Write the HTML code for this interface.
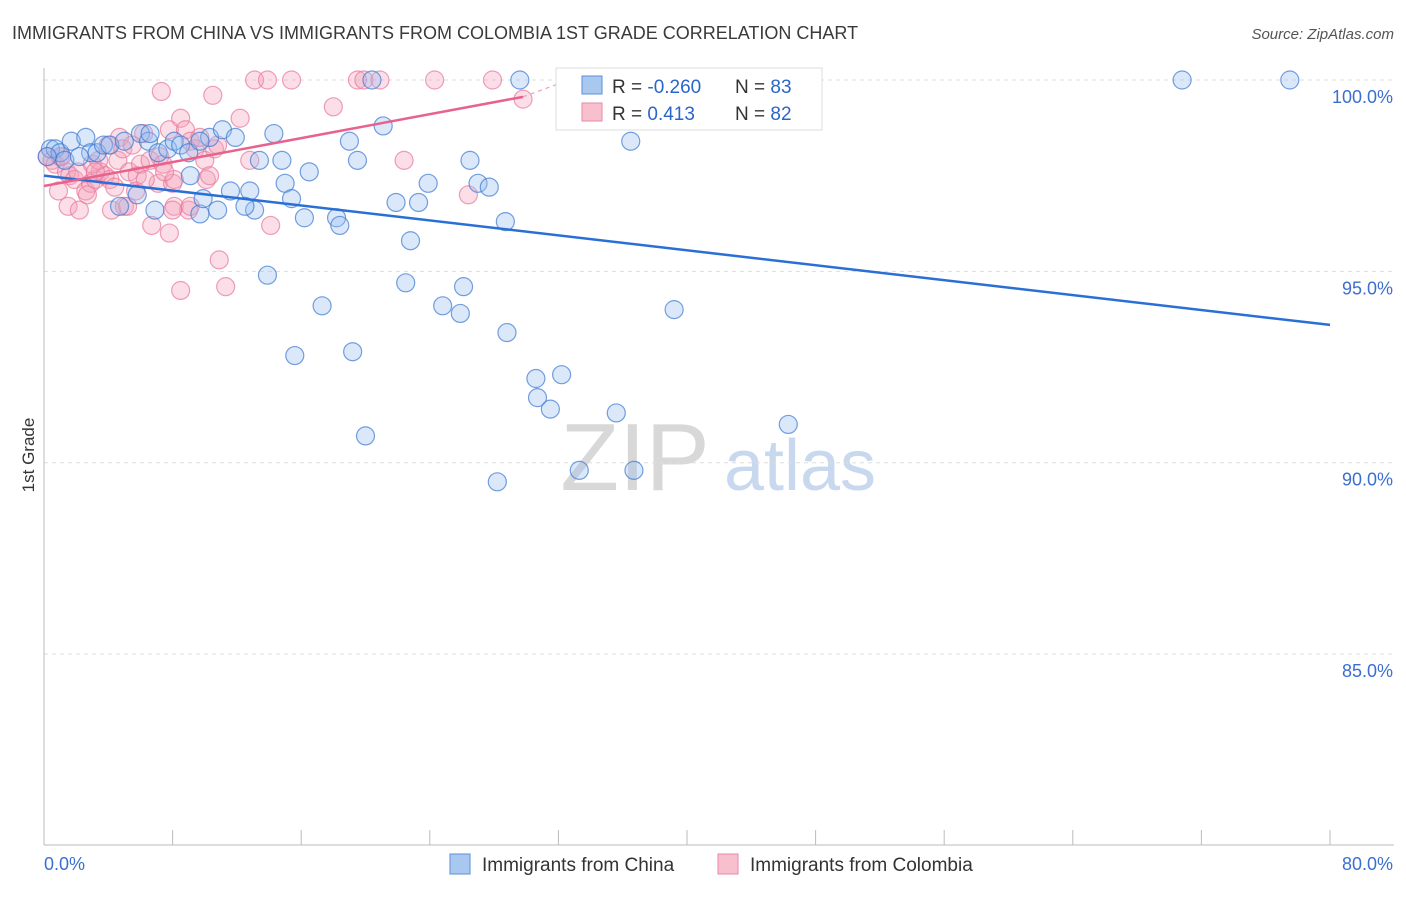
<!DOCTYPE html>
<html><head><meta charset="utf-8"><style>
body{margin:0;background:#fff;font-family:"Liberation Sans",sans-serif;}
svg text{font-family:"Liberation Sans",sans-serif;}
</style></head><body>
<svg id="chart" width="1406" height="892" xmlns="http://www.w3.org/2000/svg">
<text x="12" y="39" font-size="18" fill="#3a3a3a">IMMIGRANTS FROM CHINA VS IMMIGRANTS FROM COLOMBIA 1ST GRADE CORRELATION CHART</text>
<text x="1394" y="39" font-size="15" fill="#555" text-anchor="end" font-style="italic">Source: ZipAtlas.com</text>
<text x="34" y="455" font-size="17" fill="#333" text-anchor="middle" transform="rotate(-90 34 455)">1st Grade</text>
<g id="watermark">
<text x="635" y="490" font-size="96" fill="#d8d8d8" font-family="Liberation Serif" text-anchor="middle">ZIP</text>
<text x="800" y="490" font-size="72" fill="#c8d8ee" text-anchor="middle">atlas</text>
</g>
<g id="grid"></g><g id="axes"></g><g id="pts"></g><g id="trend"></g>
<g>
<rect x="556" y="68" width="266" height="62" fill="#fff" stroke="#ddd"/>
<rect x="582" y="76" width="20" height="18" fill="#a9c8f0" stroke="#5b8fd6"/>
<text x="612" y="93" font-size="19" fill="#333">R = <tspan fill="#2a66c9">-0.260</tspan></text>
<text x="735" y="93" font-size="19" fill="#333">N = <tspan fill="#2a66c9">83</tspan></text>
<rect x="582" y="103" width="20" height="18" fill="#f8c0cf" stroke="#e88aa5"/>
<text x="612" y="120" font-size="19" fill="#333">R = <tspan fill="#2a66c9">  0.413</tspan></text>
<text x="663" y="120" font-size="19" fill="#2a66c9"></text>
<text x="735" y="120" font-size="19" fill="#333">N = <tspan fill="#2a66c9">82</tspan></text>
</g>
<g>
<rect x="450" y="854" width="20" height="20" fill="#a9c8f0" stroke="#5b8fd6"/>
<text x="482" y="871" font-size="19" fill="#333">Immigrants from China</text>
<rect x="718" y="854" width="20" height="20" fill="#f8c0cf" stroke="#e88aa5"/>
<text x="750" y="871" font-size="19" fill="#333">Immigrants from Colombia</text>
</g>
</svg>
<script>
const yTicks=[100,95,90,85];
const yTickLabels=["100.0%","95.0%","90.0%","85.0%"];
const xTickVals=[0,8,16,24,32,40,48,56,64,72,80];
const xEndLabels=["0.0%","80.0%"];
const chinaX=[0.4,0.7,1.0,1.7,2.6,2.9,3.3,3.7,4.1,5.0,6.0,6.5,7.1,7.7,8.1,8.5,9.0,10.3,11.1,11.9,14.3,19.0,21.1,36.5,40.8,33.0,70.8,77.5,29.6,20.4,9.1,11.6,12.8,13.4,14.8,15.0,16.5,19.5,15.4,16.2,18.2,18.4,21.9,23.3,23.9,26.5,27.0,27.7,28.7,22.8,4.7,6.9,9.7,10.8,13.1,12.5,13.9,17.3,22.5,24.8,25.9,26.1,28.8,39.2,15.6,19.2,30.6,32.2,30.7,31.5,35.6,46.3,20.0,33.3,36.7,28.2,9.9,5.8,9.7,1.3,2.2,6.6,0.2];
const chinaY=[98.2,98.2,98.1,98.4,98.5,98.1,98.1,98.3,98.3,98.4,98.6,98.4,98.1,98.2,98.4,98.3,98.1,98.5,98.7,98.5,98.6,98.4,98.8,98.4,100,100,100,100,100,100,97.5,97.1,97.1,97.9,97.9,97.3,97.6,97.9,96.9,96.4,96.4,96.2,96.8,96.8,97.3,97.9,97.3,97.2,96.3,95.8,96.7,96.6,96.5,96.6,96.6,96.7,94.9,94.1,94.7,94.1,93.9,94.6,93.4,94.0,92.8,92.9,92.2,92.3,91.7,91.4,91.3,91.0,90.7,89.8,89.8,89.5,96.9,97.0,98.4,97.9,98.0,98.6,98.0];
const colX=[0.2,0.5,0.7,1.0,1.4,1.6,1.9,1.5,2.2,2.6,2.9,3.2,3.5,3.8,4.1,4.2,4.6,4.7,5.0,5.2,5.3,5.8,6.0,6.2,6.6,7.1,7.2,7.4,7.8,8.0,8.1,6.7,7.8,8.5,8.5,7.3,8.8,9.1,9.4,9.7,10.0,10.1,10.5,10.6,10.8,10.9,11.3,12.2,12.8,13.1,13.9,14.1,15.4,18.0,19.5,19.9,20.9,22.4,24.3,26.4,27.9,29.8,9.0,8.1,5.7,4.0,3.0,1.1,2.1,3.4,6.3,0.9,2.7,4.4,4.9,5.5,10.3,9.1,8.0,7.5,3.2];
const colY=[98.0,97.9,97.8,98.0,97.6,97.5,97.4,96.7,96.6,97.1,97.3,97.4,97.6,97.5,97.4,96.6,97.9,98.5,96.7,96.7,97.6,97.5,97.8,98.6,97.9,97.3,98.0,97.8,98.7,97.3,96.7,96.2,96.0,94.5,99.0,99.7,98.7,98.4,98.2,98.5,97.9,97.4,99.6,98.2,98.3,95.3,94.6,99.0,97.9,100,100,96.2,100,99.3,100,100,100,97.9,100,97.0,100,99.5,96.6,97.4,97.1,98.3,97.8,98.0,97.6,97.9,97.4,97.1,97.0,97.2,98.2,98.3,97.5,96.7,96.6,97.6,97.6];
const chinaTrend=[[0,97.5],[80,93.6]];
const colTrend=[[0,97.23],[29.8,99.56]];
const colTrendExt=[[29.8,99.56],[32,99.9]];
const X=v=>44+v/80*1286;
const Y=v=>80+(100-v)*38.27;
const NS="http://www.w3.org/2000/svg";
function mk(t,a,p){const e=document.createElementNS(NS,t);for(const k in a)e.setAttribute(k,a[k]);p.appendChild(e);return e;}
const grid=document.getElementById('grid'),axes=document.getElementById('axes'),pts=document.getElementById('pts'),tr=document.getElementById('trend');
yTicks.forEach((v,i)=>{
 const l=mk('line',{x1:44,x2:1394,y1:Y(v),y2:Y(v),stroke:'#ddd','stroke-dasharray':'4,4'},grid);
 
 
 const t=mk('text',{x:1393,y:Y(v)+23,'font-size':18,fill:'#3b6fcf','text-anchor':'end'},axes);
 t.textContent=yTickLabels[i];
 
 
});
const ya=mk('line',{x1:44,x2:44,y1:68,y2:845,stroke:'#bbb'},axes);


const xa=mk('line',{x1:44,x2:1394,y1:845,y2:845,stroke:'#bbb'},axes);


xTickVals.forEach(v=>{
 const l=mk('line',{x1:X(v),x2:X(v),y1:830,y2:845,stroke:'#bbb'},axes);
 
 
});
const xl0=mk('text',{x:44,y:870,'font-size':18,fill:'#3b6fcf'},axes);xl0.textContent=xEndLabels[0];


const xl1=mk('text',{x:1393,y:870,'font-size':18,fill:'#3b6fcf','text-anchor':'end'},axes);xl1.textContent=xEndLabels[1];


colX.forEach((v,i)=>{
 const c=mk('circle',{cx:X(v),cy:Y(colY[i]),r:9,fill:'rgba(244,160,185,0.35)',stroke:'rgba(232,120,155,0.7)','stroke-width':1.2},pts);
 
 
});
chinaX.forEach((v,i)=>{
 const c=mk('circle',{cx:X(v),cy:Y(chinaY[i]),r:9,fill:'rgba(150,190,240,0.35)',stroke:'rgba(60,120,210,0.7)','stroke-width':1.2},pts);
 
 
});
const bl=mk('line',{x1:X(chinaTrend[0][0]),y1:Y(chinaTrend[0][1]),x2:X(chinaTrend[1][0]),y2:Y(chinaTrend[1][1]),stroke:'#2a6fd6','stroke-width':2.5},tr);


const pl=mk('line',{x1:X(colTrend[0][0]),y1:Y(colTrend[0][1]),x2:X(colTrend[1][0]),y2:Y(colTrend[1][1]),stroke:'#e8628e','stroke-width':2.5},tr);


const pe=mk('line',{x1:X(colTrendExt[0][0]),y1:Y(colTrendExt[0][1]),x2:X(colTrendExt[1][0]),y2:Y(colTrendExt[1][1]),stroke:'#e8a0b5','stroke-width':1.2,'stroke-dasharray':'4,4'},tr);


</script>
</body></html>
